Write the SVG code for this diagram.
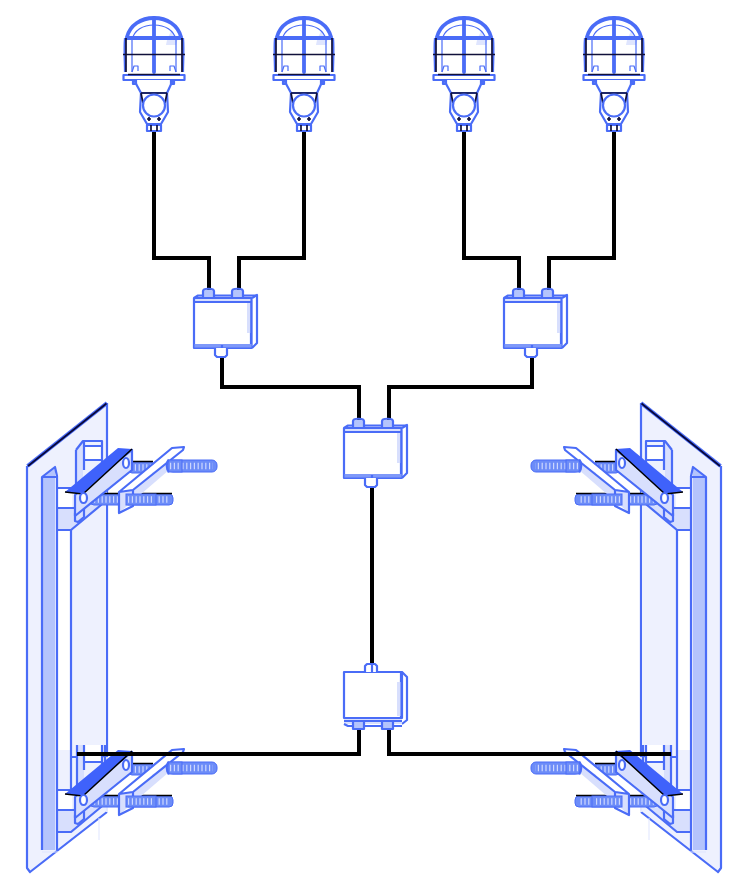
<svg xmlns="http://www.w3.org/2000/svg" width="751" height="890" viewBox="0 0 751 890">
<style>
.l{stroke:#4a6cf7;stroke-width:1.200;fill:none;stroke-linejoin:round}
.m{stroke:#4a6cf7;stroke-width:2.200;fill:none;stroke-linejoin:round}
.h{stroke:#4a6cf7;stroke-width:3.800;fill:none;stroke-linecap:round}
.k{stroke:#10103a;stroke-width:1.700;fill:none}
.w{fill:#fff}
.pale{fill:#eef1fe}
.mid{fill:#b4c4fc}
.soft{fill:#d8dffd}
.dark{fill:#3f62fb}
.wire{stroke:#000;stroke-width:4;fill:none;stroke-linejoin:miter}
.rod{fill:#6c8cf8;stroke:#4a6cf7;stroke-width:1}
.th{stroke:#cdd7fe;stroke-width:6.500;stroke-dasharray:1.200 2.600;fill:none}
</style>
<defs>
<g id="lamp">
<path class="w" d="M125 72V40C128 26 140 18 154 18C168 18 180 26 183 40V72Z"/>
<path d="M167 40L171 31L178 38L176 45H166Z" fill="#dfe5fe"/>
<path class="l" d="M132 72V40C134 30 143 25 154 25C165 25 174 30 176 40V72"/>
<path class="h" d="M127 37C130 25 141 18 154 18C167 18 178 25 181 37"/>
<path class="h" d="M127 38H181M154 18V72"/>
<path class="m" d="M125 38C124 50 125 62 125 72M183 38C184 50 183 62 183 72"/>
<path class="k" d="M126 38V72M182 38V72M123 54.500H185"/>
<path class="l" d="M132 72L134 66H138V71M176 72L174 66H170V71"/>
<rect class="w" x="123.500" y="75" width="61" height="5"/>
<rect class="m" x="123.500" y="75" width="61" height="5"/>
<path class="k" d="M128 74.500H180" stroke-width="1"/>
<path class="w" d="M134 80L141 93H167L173 80Z"/>
<path class="m" d="M134 80L141 93M173 80L167 93" stroke-width="1.400"/>
<path class="m" d="M133 80V84H136V80M171 80V84H174V80" stroke-width="1.300"/>
<path class="w" d="M141 93H167L168 112L161 124H147L140 112Z"/>
<path class="m" d="M141 93H167L168 112L161 124H147L140 112Z" stroke-width="1.500"/>
<path class="k" d="M141 93H167M141 93L143 103M167 93L165 103" stroke-width="1.300"/>
<circle class="w" cx="154" cy="105.500" r="11"/>
<circle class="m" cx="154" cy="105.500" r="11" stroke-width="1.600"/>
<path class="k" d="M147 119H151M157 119H161M149 117V121M159 117V121" stroke-width="1.300"/>
<path class="m" d="M147 125H161V131H147Z" stroke-width="1.600"/>
<path class="k" d="M151 125V131M157 125V131" stroke-width="1.200"/>
</g>
<g id="boxTop">
<path class="w" d="M194 298L198 295H257V343L252 348H194Z"/>
<path class="m" d="M252 298L257 295V343L252 348M251 300V348" stroke-width="1.300"/>
<rect class="soft" x="247" y="303" width="3.500" height="30"/>
<path class="soft" d="M194 300L198 295.500H252V302H194Z"/>
<path class="m" d="M194 298L198 295.500H256" stroke-width="1.500"/>
<path class="m" d="M194 302H251" stroke-width="1.200"/>
<rect class="m" x="194" y="298" width="57.500" height="50"/>
<rect x="194.500" y="344" width="57" height="3.500" fill="#7f99f9"/>
<path class="mid" d="M203 290H214V298H203ZM232 290H243V298H232Z"/>
<path class="m" d="M203 291C203 288 214 288 214 291V298H203ZM232 291C232 288 243 288 243 291V298H232Z" stroke-width="1.500"/>
<path class="w" d="M215 348H227V355L225 357H217L215 355Z"/>
<path class="m" d="M215 348V355L217 357H225L227 355V348M222 345V348" stroke-width="1.300"/>
</g>
<g id="boxBottom">
<path class="w" d="M344 672H402L407 677V720L402 724H344Z"/>
<path class="m" d="M402 672L407 677V720L402 724M401 672V718" stroke-width="1.300"/>
<rect class="soft" x="397" y="682" width="3.500" height="34"/>
<rect class="soft" x="344" y="717" width="58" height="7"/>
<rect class="m" x="344" y="672" width="58" height="46"/>
<path class="m" d="M344 721H402M344 724L348 726H402" stroke-width="1.500"/>
<path class="mid" d="M353 721H364V730H353ZM382 721H393V730H382Z"/>
<path class="m" d="M353 721H364V729H353ZM382 721H393V729H382Z" stroke-width="1.500"/>
<path class="w" d="M365 672V666L367 664H375L377 666V672Z"/>
<path class="m" d="M365 672V666L367 664H375L377 666V672M372 664V672" stroke-width="1.300"/>
</g>
<g id="rods">
<rect class="rod" x="128" y="462" width="26" height="11" rx="4"/>
<path class="th" d="M131 467.500H152"/>
<rect class="rod" x="168" y="460" width="49" height="12" rx="5"/>
<path class="th" d="M171 466H213"/>
<rect class="rod" x="90" y="494" width="83" height="11" rx="4"/>
<path class="th" d="M94 499.500H168"/>
<path d="M131 461.500H153M92 493.500H172" stroke="#000" stroke-width="1.300" fill="none"/>
</g>
<g id="bracket">
<path class="m" d="M75 513L84 506V517L78 522L75 521Z" fill="#d8dffd" stroke-width="1.300"/>
<use href="#rods"/>
<path class="soft" d="M75 495L132 450V470L75 516Z"/>
<path class="m" d="M75 495L132 450V470L75 516Z"/>
<path class="dark" d="M65 492L118 448L132 449L83 494Z"/>
<path d="M65 492L83 494L132 449" stroke="#000" stroke-width="1.500" fill="none"/>
<ellipse class="w" cx="83.500" cy="498" rx="3.500" ry="5"/>
<ellipse class="m" cx="83.500" cy="498" rx="3.500" ry="5" stroke-width="1.300"/>
<ellipse class="w" cx="126" cy="463" rx="3" ry="5"/>
<ellipse class="m" cx="126" cy="463" rx="3" ry="5" stroke-width="1.300"/>
<path class="w" d="M119 492L172 449L184 447L133 489Z"/>
<path class="soft" d="M119 492L133 489L169 460V470L119 513Z"/>
<path class="m" d="M119 492L172 448L184 447L183 450L133 490V506L119 513ZM119 492L133 490"/>
<rect class="rod" x="126" y="494" width="30" height="11"/>
<path class="th" d="M128 499.500H154"/>
<rect class="rod" x="168" y="460" width="14" height="12"/>
<path class="th" d="M170 466H180"/>
<path class="m" d="M169 460C166 462 166 469 169 472" stroke-width="1.300"/>
</g>
<g id="plate">
<path class="pale" d="M27 466L107 403V812L30 872L27 868Z"/>
<path class="m" d="M27 466V868L30 872L107 812M107 403V757"/>
<path d="M107 757V812" stroke="#e4e9fe" stroke-width="2"/>
<path d="M27.500 466L107 403" stroke="#4a6cf7" stroke-width="3.800"/>
<path d="M28 466L106.500 403.500" stroke="#08083a" stroke-width="1.700"/>
<path class="w" d="M57 530H71V750H57Z"/>
<path class="pale" d="M71 530L106 502V750Q106 757 100 757H71Z"/>
<path class="m" d="M71 530V790M71 757H100Q106 757 106 750" stroke-width="1.500"/>
<g id="clipTop">
<path class="soft" d="M76 450L83 441V480L76 484Z"/>
<path class="w" d="M85 446H102V460H85Z"/>
<path class="m" d="M76 450L83 441H102V482M76 450V484M84 441V470M84 446H102V460M84 460H102" stroke-width="1.500"/>
<path class="w" d="M57 488H72V508H57Z"/>
<path class="soft" d="M57 508H75L107 482V498L71 530H57Z"/>
<path class="m" d="M57 488H76M57 508H74L107 481M57 530H71L107 500" stroke-width="1.500"/>
</g>
<g id="clipBottom">
<path class="soft" d="M77 745H84V782L77 786Z"/>
<path class="w" d="M85 745H102V762H85Z"/>
<path class="m" d="M77 745V786M84 745V770M84 762H102M102 745V782M105 745V780" stroke-width="1.500"/>
<path class="w" d="M57 790H72V810H57Z"/>
<path class="soft" d="M57 810H75L107 784V800L71 832H57Z"/>
<path class="m" d="M57 790H76M57 810H74L107 783M57 832H71L107 802" stroke-width="1.500"/>
</g>
<path class="mid" d="M42 477L55 467V850H42Z"/>
<path class="m" d="M42 850V477L55 467L57 476V850M42 477H57"/>
<path d="M58 852H42M99 818V840" stroke="#dfe5fe" stroke-width="1" fill="none"/>
</g>
<g id="mountLeft">
<use href="#plate"/>
<use href="#bracket"/>
<use href="#bracket" y="302"/>
</g>
</defs>
<rect width="751" height="890" fill="#fff"/>
<g id="mount-left"><use href="#mountLeft"/></g>
<g id="mount-right"><use href="#mountLeft" transform="translate(748 0) scale(-1 1)"/></g>
<g id="connectors">
<path class="wire" d="M154 131V258H209V291"/>
<path class="wire" d="M304 131V258H239V291"/>
<path class="wire" d="M464 131V258H519V291"/>
<path class="wire" d="M614 131V258H549V291"/>
<path class="wire" d="M222 356V387H359V421"/>
<path class="wire" d="M532 356V387H389V421"/>
<path class="wire" d="M372 486V664"/>
<path class="wire" d="M359 729V754H77"/>
<path class="wire" d="M389 729V754H671"/>
</g>
<g id="lamp-1"><use href="#lamp"/></g>
<g id="lamp-2"><use href="#lamp" x="150"/></g>
<g id="lamp-3"><use href="#lamp" x="310"/></g>
<g id="lamp-4"><use href="#lamp" x="460"/></g>
<g id="box-1"><use href="#boxTop"/></g>
<g id="box-2"><use href="#boxTop" x="310"/></g>
<g id="box-3"><use href="#boxTop" x="150" y="130"/></g>
<g id="box-4"><use href="#boxBottom"/></g>
</svg>
